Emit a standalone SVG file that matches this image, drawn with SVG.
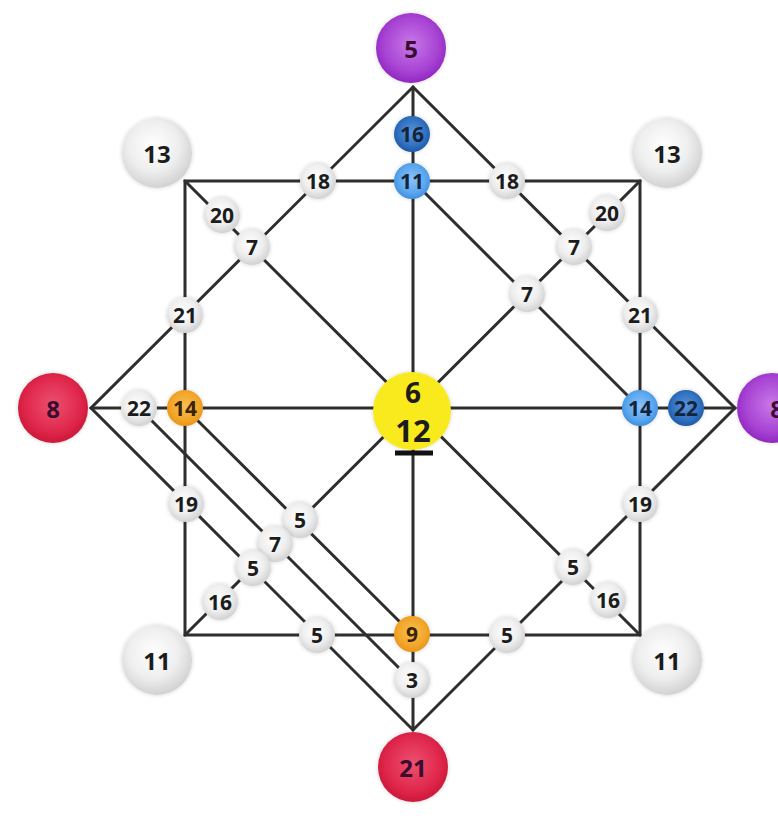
<svg xmlns="http://www.w3.org/2000/svg" width="778" height="819" viewBox="0 0 778 819">
<defs>
<radialGradient id="gGray" cx="45%" cy="40%" r="60%"><stop offset="0" stop-color="#ffffff"/><stop offset="0.6" stop-color="#eeeeee"/><stop offset="1" stop-color="#d2d2d2"/></radialGradient>
<radialGradient id="gPurple" cx="50%" cy="45%" r="55%"><stop offset="0" stop-color="#c878e8"/><stop offset="0.7" stop-color="#a844d4"/><stop offset="1" stop-color="#9028c0"/></radialGradient>
<radialGradient id="gRed" cx="50%" cy="45%" r="55%"><stop offset="0" stop-color="#ec5070"/><stop offset="0.7" stop-color="#e0284c"/><stop offset="1" stop-color="#cc1838"/></radialGradient>
<radialGradient id="gLBlue" cx="50%" cy="45%" r="55%"><stop offset="0" stop-color="#8cc4f8"/><stop offset="0.7" stop-color="#5aa6ee"/><stop offset="1" stop-color="#3f8fe0"/></radialGradient>
<radialGradient id="gDBlue" cx="50%" cy="45%" r="55%"><stop offset="0" stop-color="#5a94d8"/><stop offset="0.7" stop-color="#3070c0"/><stop offset="1" stop-color="#1f5aa8"/></radialGradient>
<radialGradient id="gOrange" cx="50%" cy="45%" r="55%"><stop offset="0" stop-color="#f8c050"/><stop offset="0.7" stop-color="#f2a62a"/><stop offset="1" stop-color="#e8961a"/></radialGradient>
<filter id="glow" x="-30%" y="-30%" width="160%" height="160%"><feGaussianBlur in="SourceAlpha" stdDeviation="2"/><feComponentTransfer><feFuncA type="linear" slope="0.18"/></feComponentTransfer><feMerge><feMergeNode/><feMergeNode in="SourceGraphic"/></feMerge></filter>
</defs>
<style>
.ln{stroke:#2e2e2e;stroke-width:3;fill:none;stroke-linecap:round}
circle{filter:url(#glow)}
text{font-family:"Open Sans","Noto Sans","Liberation Sans",sans-serif;font-weight:700;text-anchor:middle;dominant-baseline:central;fill:#1c1c1c}
.s{font-size:21px}
.b{font-size:24px}
.dk{fill:#3a0c30}
.nv{fill:#14243c}
.br{fill:#3a2408}
</style>
<rect width="778" height="819" fill="#ffffff"/>
<g id="connectors">
<path class="ln" d="M185 181H640V635H185Z"/>
<path class="ln" d="M413 87L735 408L413 730L91 408Z"/>
<path class="ln" d="M413 87V730M91 408H735"/>
<path class="ln" d="M185 181L640 635M640 181L185 635"/>
<path class="ln" d="M413 181L640 408"/>
<path class="ln" d="M185 408L413 635"/>
<path class="ln" d="M139 408L413 682"/>
<path class="ln" d="M395 453H433" style="stroke:#111;stroke-width:5;stroke-linecap:butt"/>
</g>
<g id="n-top5"><circle cx="411" cy="48" r="35" fill="url(#gPurple)"/><text x="411" y="48" class="b dk">5</text></g>
<g id="n-tl13"><circle cx="157" cy="153" r="35" fill="url(#gGray)"/><text x="157" y="153" class="b">13</text></g>
<g id="n-tr13"><circle cx="667" cy="153" r="35" fill="url(#gGray)"/><text x="667" y="153" class="b">13</text></g>
<g id="n-left8"><circle cx="53" cy="408" r="35" fill="url(#gRed)"/><text x="53" y="408" class="b dk">8</text></g>
<g id="n-right8"><circle cx="772" cy="408" r="35" fill="url(#gPurple)"/><text x="777" y="408" class="b dk">8</text></g>
<g id="n-bl11"><circle cx="157" cy="660" r="35" fill="url(#gGray)"/><text x="157" y="660" class="b">11</text></g>
<g id="n-br11"><circle cx="667" cy="660" r="35" fill="url(#gGray)"/><text x="667" y="660" class="b">11</text></g>
<g id="n-bot21"><circle cx="413" cy="767" r="35" fill="url(#gRed)"/><text x="413" y="767" class="b dk">21</text></g>
<g id="n-center"><circle cx="412" cy="411" r="39" fill="#f8ea1c"/><text x="413" y="392" style="font-size:28px">6</text><text x="413" y="430" style="font-size:31px">12</text></g>
<g id="n-16top"><circle cx="412" cy="134" r="18" fill="url(#gDBlue)"/><text x="412" y="134" class="s nv">16</text></g>
<g id="n-11top"><circle cx="412" cy="181" r="18" fill="url(#gLBlue)"/><text x="412" y="181" class="s nv">11</text></g>
<g id="n-18l"><circle cx="318" cy="181" r="18" fill="url(#gGray)"/><text x="318" y="181" class="s">18</text></g>
<g id="n-18r"><circle cx="507" cy="181" r="18" fill="url(#gGray)"/><text x="507" y="181" class="s">18</text></g>
<g id="n-20l"><circle cx="222" cy="215" r="18" fill="url(#gGray)"/><text x="222" y="215" class="s">20</text></g>
<g id="n-20r"><circle cx="607" cy="213" r="18" fill="url(#gGray)"/><text x="607" y="213" class="s">20</text></g>
<g id="n-7l"><circle cx="252" cy="247" r="18" fill="url(#gGray)"/><text x="252" y="247" class="s">7</text></g>
<g id="n-7r"><circle cx="574" cy="247" r="18" fill="url(#gGray)"/><text x="574" y="247" class="s">7</text></g>
<g id="n-7r2"><circle cx="527" cy="294" r="18" fill="url(#gGray)"/><text x="527" y="294" class="s">7</text></g>
<g id="n-21l"><circle cx="185" cy="315" r="18" fill="url(#gGray)"/><text x="185" y="315" class="s">21</text></g>
<g id="n-21r"><circle cx="640" cy="315" r="18" fill="url(#gGray)"/><text x="640" y="315" class="s">21</text></g>
<g id="n-22l"><circle cx="139" cy="408" r="18" fill="url(#gGray)"/><text x="139" y="408" class="s">22</text></g>
<g id="n-14l"><circle cx="185" cy="408" r="18" fill="url(#gOrange)"/><text x="185" y="408" class="s br">14</text></g>
<g id="n-14r"><circle cx="640" cy="408" r="18" fill="url(#gLBlue)"/><text x="640" y="408" class="s nv">14</text></g>
<g id="n-22r"><circle cx="686" cy="408" r="18" fill="url(#gDBlue)"/><text x="686" y="408" class="s nv">22</text></g>
<g id="n-19l"><circle cx="186" cy="504" r="18" fill="url(#gGray)"/><text x="186" y="504" class="s">19</text></g>
<g id="n-19r"><circle cx="640" cy="504" r="18" fill="url(#gGray)"/><text x="640" y="504" class="s">19</text></g>
<g id="n-5a"><circle cx="300" cy="520" r="18" fill="url(#gGray)"/><text x="300" y="520" class="s">5</text></g>
<g id="n-7b"><circle cx="275" cy="544" r="18" fill="url(#gGray)"/><text x="275" y="544" class="s">7</text></g>
<g id="n-5b"><circle cx="253" cy="568" r="18" fill="url(#gGray)"/><text x="253" y="568" class="s">5</text></g>
<g id="n-16l"><circle cx="220" cy="602" r="18" fill="url(#gGray)"/><text x="220" y="602" class="s">16</text></g>
<g id="n-5c"><circle cx="317" cy="635" r="18" fill="url(#gGray)"/><text x="317" y="635" class="s">5</text></g>
<g id="n-9"><circle cx="412" cy="634" r="18" fill="url(#gOrange)"/><text x="412" y="634" class="s br">9</text></g>
<g id="n-3"><circle cx="412" cy="680" r="18" fill="url(#gGray)"/><text x="412" y="680" class="s">3</text></g>
<g id="n-5d"><circle cx="507" cy="635" r="18" fill="url(#gGray)"/><text x="507" y="635" class="s">5</text></g>
<g id="n-5e"><circle cx="573" cy="567" r="18" fill="url(#gGray)"/><text x="573" y="567" class="s">5</text></g>
<g id="n-16r"><circle cx="608" cy="600" r="18" fill="url(#gGray)"/><text x="608" y="600" class="s">16</text></g>
</svg>
